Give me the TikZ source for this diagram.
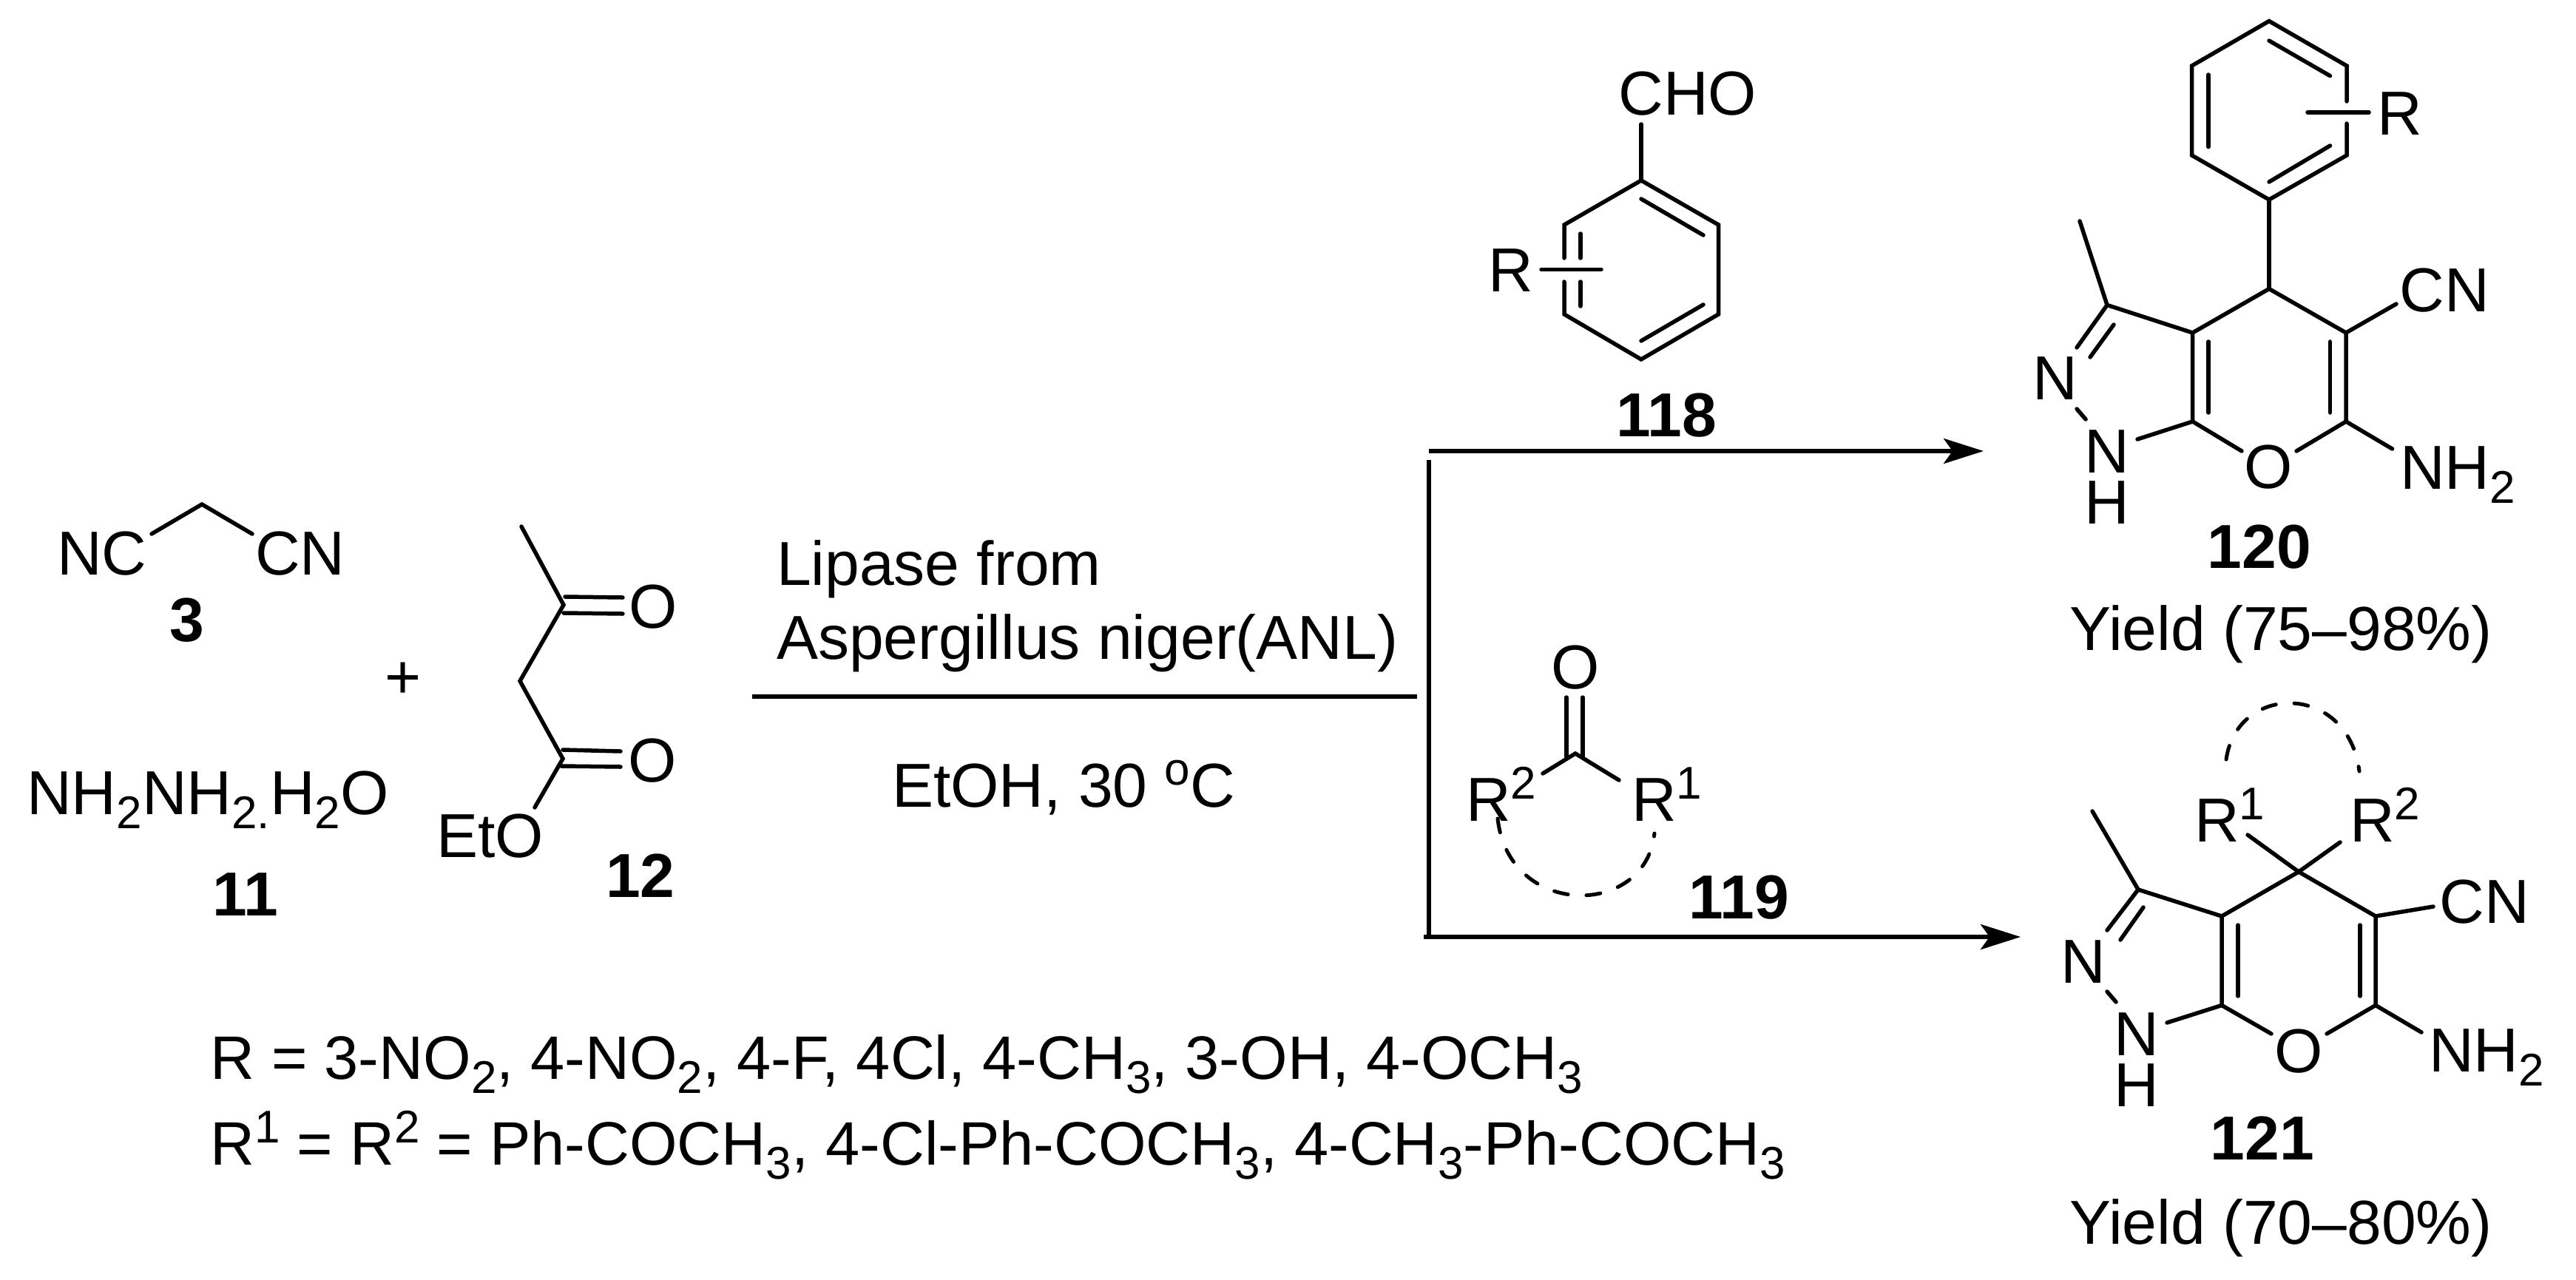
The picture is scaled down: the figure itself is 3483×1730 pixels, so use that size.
\documentclass[tikz,border=0pt]{standalone}
\usepackage{fontspec}
\setmainfont{Liberation Sans}
\usetikzlibrary{arrows.meta}
\newcommand{\lsb}[1]{\raisebox{-19pt}{\fontsize{62}{62}\selectfont #1}}
\newcommand{\lsp}[1]{\raisebox{30pt}{\fontsize{62}{62}\selectfont #1}}
\tikzset{
  bond/.style={line width=5.5pt,line cap=round,line join=miter},
  ringdash/.style={line width=5pt,line cap=round,dash pattern=on 19pt off 25pt},
  rxnline/.style={line width=5.5pt},
  rxnarrow/.style={line width=5.5pt,-{Stealth[length=54pt,width=34pt,inset=12pt]}},
  atom/.style={inner sep=0pt,anchor=base,font=\fontsize{84}{100}\selectfont},
  atomw/.style={atom,anchor=base west},
  legendtext/.style={atomw,font=\fontsize{83}{100}\selectfont},
  cmpd/.style={inner sep=0pt,anchor=base,font=\fontsize{84}{100}\selectfont\bfseries},
}
\begin{document}
\begin{tikzpicture}[x=1pt,y=-1pt]
\useasboundingbox (0,0) rectangle (3483,1730);
% ---- reagents
\node[atom] (nc) at (138,777) {NC};
\node[atom] (cn) at (406,777) {CN};
\coordinate (m1) at (205,722);\coordinate (m2) at (273,682);\coordinate (m3) at (341,722);
\draw[bond] (m1)--(m2)--(m3);
\node[cmpd] (c3) at (253,867) {3};
\node[atomw] (hyd) at (36,1101) {NH\lsb{2}NH\lsb{2}\lsb{.}H\lsb{2}O};
\node[cmpd] (c11) at (332,1238) {11};
\node[atom] (plus) at (545,944) {+};
\coordinate (e1) at (705,712);\coordinate (e2) at (762,818);\coordinate (e3) at (703,921);\coordinate (e4) at (761,1026);\coordinate (e5) at (723,1092);
\draw[bond] (e1)--(e2)--(e3)--(e4)--(e5);
\node[atom] (o1) at (883,849) {O};
\node[atom] (o2) at (882,1057) {O};
\coordinate (e2a) at (764,807);\coordinate (e2b) at (842,808);\coordinate (e2c) at (762,829);\coordinate (e2d) at (842,830);
\draw[bond] (e2a)--(e2b) (e2c)--(e2d);
\coordinate (e4a) at (761,1014);\coordinate (e4b) at (839,1016);\coordinate (e4c) at (759,1036);\coordinate (e4d) at (839,1037);
\draw[bond] (e4a)--(e4b) (e4c)--(e4d);
\node[atomw] (eto) at (590,1159) {EtO};
\node[cmpd] (c12) at (866,1213) {12};
% ---- conditions
\node[atomw] (lip) at (1050,791) {Lipase from};
\node[atomw] (asp) at (1050,891) {Aspergillus niger(ANL)};
\coordinate (rl) at (1017,942);\coordinate (rr) at (1916,942);
\draw[rxnline] (rl)--(rr);
\node[atom] (etoh) at (1438,1091) {EtOH, 30 \lsp{o}C};
% ---- branching arrows
\coordinate (v1) at (1932,622);\coordinate (v2) at (1932,1268);
\draw[rxnline] (v1)--(v2);
\coordinate (a1s) at (1932,610);\coordinate (a1e) at (2682,610);
\draw[rxnarrow] (a1s)--(a1e);
\coordinate (a2s) at (1925,1267);\coordinate (a2e) at (2732,1267);
\draw[rxnarrow] (a2s)--(a2e);
% ---- 118
\coordinate (b1) at (2219,244);\coordinate (b2) at (2323.5,304);\coordinate (b3) at (2323.5,425);\coordinate (b4) at (2219,486);\coordinate (b5) at (2115,425);\coordinate (b6) at (2115,304);
\coordinate (b6g) at (2115,349);\coordinate (b5g) at (2115,381);
\draw[bond] (b6g)--(b6)--(b1)--(b2)--(b3)--(b4)--(b5)--(b5g);
\coordinate (bo) at (2219,168);\draw[bond] (b1)--(bo);
\node[atom] (cho) at (2282,155) {CHO};
\node[atom] (r118) at (2043,394) {R};
\coordinate (bra) at (2084,364.5);\coordinate (brb) at (2165,364.5);\draw[bond] (bra)--(brb);
\coordinate (bi1) at (2137,316);\coordinate (bi2) at (2137,349);\draw[bond] (bi1)--(bi2);
\coordinate (bi3) at (2137,381);\coordinate (bi4) at (2137,414);\draw[bond] (bi3)--(bi4);
\coordinate (bi5) at (2219,269);\coordinate (bi6) at (2303,318);\draw[bond] (bi5)--(bi6);
\coordinate (bi7) at (2303,412);\coordinate (bi8) at (2219,461);\draw[bond] (bi7)--(bi8);
\node[cmpd] (c118) at (2253,590) {118};
% ---- 119
\node[atom] (o119) at (2130,931) {O};
\coordinate (k) at (2130,1019);\coordinate (kl) at (2086,1046);\coordinate (kr) at (2189,1055);
\draw[bond] (kl)--(k)--(kr);
\coordinate (kd1) at (2118,943);\coordinate (kd2) at (2118,1023);\coordinate (kd3) at (2140,943);\coordinate (kd4) at (2140,1023);
\draw[bond] (kd1)--(kd2) (kd3)--(kd4);
\node[atomw] (r2a) at (1982,1110) {R\lsp{2}};
\node[atomw] (r1a) at (2206,1110) {R\lsp{1}};
\coordinate (ka) at (2025,1107);\coordinate (kb) at (2237,1127);
\draw[ringdash] (ka) .. controls (2040,1242) and (2225,1242) .. (kb);
\node[cmpd] (c119) at (2351,1242) {119};
% ---- 120
\coordinate (p1) at (3068,28.5);\coordinate (p2) at (3173,89);\coordinate (p3) at (3173,210);\coordinate (p4) at (3068,270);\coordinate (p5) at (2963.5,210);\coordinate (p6) at (2963.5,89);
\coordinate (p2g) at (3173,137);\coordinate (p3g) at (3173,167);
\draw[bond] (p2g)--(p2)--(p1)--(p6)--(p5)--(p4)--(p3)--(p3g);
\coordinate (pi1) at (3068,55);\coordinate (pi2) at (3150.5,102.6);\draw[bond] (pi1)--(pi2);
\coordinate (pi3) at (3150.5,197);\coordinate (pi4) at (3068,246);\draw[bond] (pi3)--(pi4);
\coordinate (pi5) at (2986,101);\coordinate (pi6) at (2986,198.6);\draw[bond] (pi5)--(pi6);
\coordinate (pra) at (3120,152);\coordinate (prb) at (3203,152);\draw[bond] (pra)--(prb);
\node[atomw] (r120) at (3214,182) {R};
\coordinate (q4) at (3068,390.6);\coordinate (q5) at (3172,450);\coordinate (q6) at (3172,570);\coordinate (q7a) at (2964.6,570);\coordinate (q3a) at (2964.6,450);\coordinate (q3) at (2849,412.5);\coordinate (qme) at (2812,299);
\coordinate (qo1) at (3031,610);\coordinate (qo2) at (3105,610);
\draw[bond] (p4)--(q4);
\draw[bond] (qo2)--(q6)--(q5)--(q4)--(q3a)--(q7a)--(qo1);
\draw[bond] (qme)--(q3)--(q3a);
\coordinate (qi1) at (2986,462);\coordinate (qi2) at (2986,558);\draw[bond] (qi1)--(qi2);
\coordinate (qi3) at (3150.5,462);\coordinate (qi4) at (3150.5,558);\draw[bond] (qi3)--(qi4);
\coordinate (qn1) at (2808,470);\draw[bond] (q3)--(qn1);
\coordinate (qn2) at (2858,439);\coordinate (qn3) at (2826,483);\draw[bond] (qn2)--(qn3);
\coordinate (qn4) at (2808,553);\coordinate (qn5) at (2820,567);\draw[bond] (qn4)--(qn5);
\coordinate (qn6) at (2890,594);\draw[bond] (qn6)--(q7a);
\coordinate (qc) at (3240,411);\draw[bond] (q5)--(qc);
\coordinate (qa) at (3234.5,607);\draw[bond] (q6)--(qa);
\node[atom] (n120a) at (2779,540) {N};
\node[atom] (n120b) at (2849,639) {N};
\node[atom] (h120) at (2849,708) {H};
\node[atom] (o120) at (3067,660) {O};
\node[atom] (cn120) at (3305,421) {CN};
\node[atomw] (nh120) at (3245,661) {NH\lsb{2}};
\node[cmpd] (c120) at (3055,768) {120};
\node[atom] (y120) at (3084,879) {Yield (75--98\%)};
% ---- 121
\coordinate (s4) at (3108,1179);\coordinate (s5) at (3212,1239);\coordinate (s6) at (3212,1359.5);\coordinate (s7a) at (3004,1359.5);\coordinate (s3a) at (3004,1239);\coordinate (s3) at (2891,1203);\coordinate (sme) at (2829,1097);
\coordinate (so1) at (3071,1398);\coordinate (so2) at (3146,1398);
\draw[bond] (so2)--(s6)--(s5)--(s4)--(s3a)--(s7a)--(so1);
\draw[bond] (sme)--(s3)--(s3a);
\coordinate (si1) at (3026,1251);\coordinate (si2) at (3026,1347);\draw[bond] (si1)--(si2);
\coordinate (si3) at (3191,1251);\coordinate (si4) at (3191,1347);\draw[bond] (si3)--(si4);
\coordinate (sn1) at (2849,1258);\draw[bond] (s3)--(sn1);
\coordinate (sn2) at (2898,1227);\coordinate (sn3) at (2867,1271);\draw[bond] (sn2)--(sn3);
\coordinate (sn4) at (2849,1341);\coordinate (sn5) at (2861,1355);\draw[bond] (sn4)--(sn5);
\coordinate (sn6) at (2930,1383);\draw[bond] (sn6)--(s7a);
\coordinate (sc) at (3290,1226);\draw[bond] (s5)--(sc);
\coordinate (sa) at (3274,1396);\draw[bond] (s6)--(sa);
\coordinate (sr1) at (3039,1129);\coordinate (sr2) at (3164,1139);\draw[bond] (sr1)--(s4)--(sr2);
\coordinate (sd1) at (3010,1027);\coordinate (sd2) at (3190,1043);
\draw[ringdash] (sd1) .. controls (3025,923) and (3175,923) .. (sd2);
\node[atomw] (r1b) at (2967,1138) {R\lsp{1}};
\node[atomw] (r2b) at (3177,1138) {R\lsp{2}};
\node[atom] (n121a) at (2817,1329) {N};
\node[atom] (n121b) at (2889,1427) {N};
\node[atom] (h121) at (2889,1496) {H};
\node[atom] (o121) at (3108,1450) {O};
\node[atom] (cn121) at (3359,1248) {CN};
\node[atomw] (nh121) at (3284,1449) {NH\lsb{2}};
\node[cmpd] (c121) at (3059,1568) {121};
\node[atom] (y121) at (3084,1682) {Yield (70--80\%)};
% ---- legend
\node[legendtext] (leg1) at (284,1459) {R = 3-NO\lsb{2}, 4-NO\lsb{2}, 4-F, 4Cl, 4-CH\lsb{3}, 3-OH, 4-OCH\lsb{3}};
\node[legendtext] (leg2) at (284,1575) {R\lsp{1} = R\lsp{2} = Ph-COCH\lsb{3}, 4-Cl-Ph-COCH\lsb{3}, 4-CH\lsb{3}-Ph-COCH\lsb{3}};
\end{tikzpicture}
\end{document}
